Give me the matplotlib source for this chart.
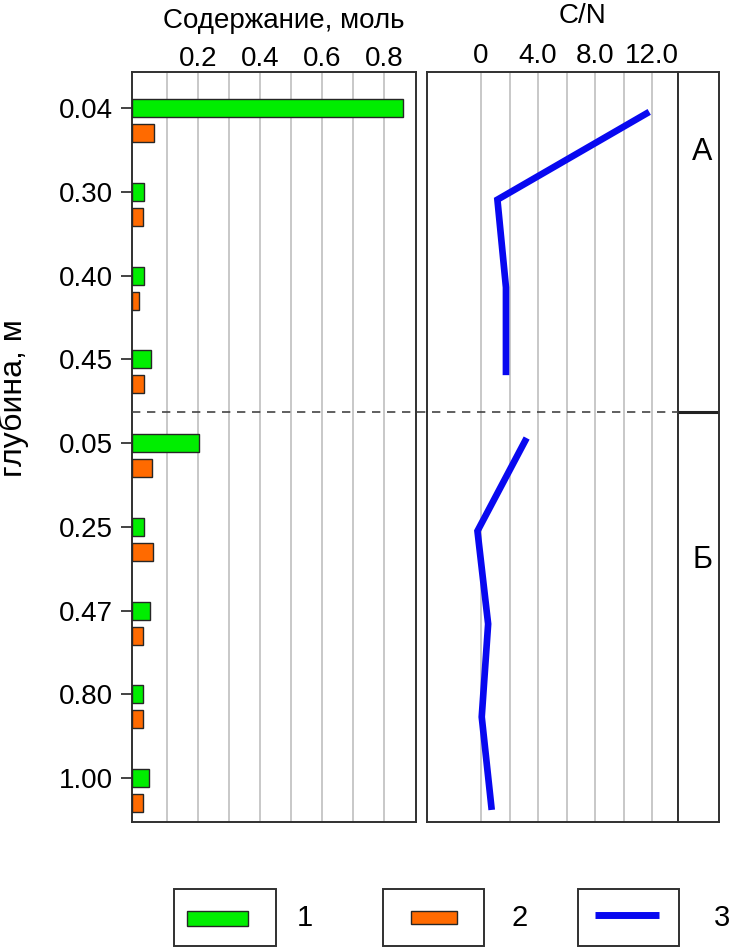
import matplotlib
matplotlib.use("Agg")
import matplotlib.pyplot as plt
from matplotlib.patches import Rectangle
from matplotlib.lines import Line2D
import numpy as np

plt.rcParams['font.family'] = ['Liberation Sans', 'DejaVu Sans']

# depth labels (upper section A, lower section Б)
depth_labels = ['0.04', '0.30', '0.40', '0.45', '0.05', '0.25', '0.47', '0.80', '1.00']
# content, mol
series1 = [0.862, 0.026, 0.026, 0.049, 0.202, 0.026, 0.046, 0.022, 0.041]
series2 = [0.058, 0.024, 0.008, 0.026, 0.051, 0.054, 0.022, 0.022, 0.022]
# C/N ratio per section
cn_a = [11.8, 1.15, 1.75, 1.75]
cn_b = [3.2, -0.25, 0.5, 0.05, 0.75]

content_ticks = [0.2, 0.4, 0.6, 0.8]
content_grid = [0.1, 0.3, 0.5, 0.7]
cn_ticks = [0, 4, 8, 12]
cn_tick_labels = ['0', '4.0', '8.0', '12.0']
cn_grid = [2, 6, 10]
section_names = ['А', 'Б']
legend_labels = ['1', '2', '3']

GREEN = '#00ee00'
ORANGE = '#ff6a00'
BLUE = '#0808f0'
EDGE = '#262626'
GRID = '#c4c4c4'
SPINE = '#303030'
FS = 20

W, H = 730, 947
fig = plt.figure(figsize=(W / 100, H / 100), dpi=100)


def box(x0, y0, x1, y1):
    """pixel box (top-left origin) -> figure fraction rect"""
    return [x0 / W, 1 - y1 / H, (x1 - x0) / W, (y1 - y0) / H]


def fx(x):
    return x / W


def fy(y):
    return 1 - y / H


# ---- left panel: content bars ----
ax = fig.add_axes(box(132, 72, 416, 822))
pos = np.arange(len(depth_labels))
x_min, x_max = -0.013, 0.903
bh = 0.215
ax.barh(pos, np.array(series1) - x_min, left=x_min, height=bh,
        color=GREEN, edgecolor=EDGE, linewidth=1.0, zorder=3)
ax.barh(pos + 0.3, np.array(series2) - x_min, left=x_min, height=bh,
        color=ORANGE, edgecolor=EDGE, linewidth=1.0, zorder=3)
ax.set_xlim(x_min, x_max)
ax.set_ylim(8.525, -0.43)
ax.set_yticks(pos)
ax.set_yticklabels(depth_labels, fontsize=FS)
ax.tick_params(axis='y', length=8, width=1.2, pad=6, color='#222222')
ax.xaxis.tick_top()
ax.set_xticks(content_ticks)
ax.set_xticklabels([f'{v:.1f}' for v in content_ticks], fontsize=FS)
ax.set_xticks(content_grid, minor=True)
ax.tick_params(axis='x', which='both', length=0, pad=0)
ax.grid(axis='x', which='both', color=GRID, linewidth=1.3, zorder=0)
for s in ax.spines.values():
    s.set_color(SPINE)
    s.set_linewidth(1.4)

# ---- right panel: C/N line, one axes per section ----
cn_min, cn_max = -3.79, 13.82
ax_a = fig.add_axes(box(427, 72, 678, 412))
ax_b = fig.add_axes(box(427, 412, 678, 822))
for a, vals, lim in ((ax_a, cn_a, (3.42, -0.455)), (ax_b, cn_b, (4.13, -0.28))):
    a.plot(vals, np.arange(len(vals)), color=BLUE, linewidth=4.8,
           solid_capstyle='butt', solid_joinstyle='miter', zorder=3)
    a.set_xlim(cn_min, cn_max)
    a.set_ylim(*lim)
    a.set_yticks([])
    a.set_xticks(cn_ticks)
    a.set_xticks(cn_grid, minor=True)
    a.grid(axis='x', which='both', color=GRID, linewidth=1.3, zorder=0)
    a.tick_params(axis='x', which='both', length=0)
    for s in a.spines.values():
        s.set_color(SPINE)
        s.set_linewidth(1.4)
ax_a.xaxis.tick_top()
ax_a.set_xticklabels(cn_tick_labels, fontsize=FS)
ax_a.tick_params(axis='x', pad=2)
ax_a.spines['bottom'].set_visible(False)
ax_b.set_xticklabels([])
ax_b.spines['top'].set_visible(False)

# ---- section column ----
ax_s = fig.add_axes(box(678, 72, 719, 822))
ax_s.set_xlim(0, 1)
ax_s.set_ylim(822, 72)
ax_s.set_xticks([])
ax_s.set_yticks([])
for s in ax_s.spines.values():
    s.set_color(SPINE)
    s.set_linewidth(1.4)
ax_s.axhline(412, color='#222222', linewidth=2.2)
ax_s.text(0.6, 152, section_names[0], fontsize=22, ha='center', va='center')
ax_s.text(0.6, 560, section_names[1], fontsize=22, ha='center', va='center')

# section divider across both panels
fig.add_artist(Line2D([fx(132), fx(678)], [fy(412), fy(412)], color='#444444',
                      linewidth=1.2, linestyle=(0, (5, 4))))

# titles and axis label
fig.text(fx(284), fy(21), 'Содержание, моль', fontsize=FS, ha='center', va='center')
fig.text(fx(582), fy(16), 'C/N', fontsize=FS, ha='center', va='center')
fig.text(fx(14), fy(398), 'глубина, м', fontsize=23, rotation=90,
         ha='center', va='center')

# ---- legend ----
leg_boxes = [(174, 276), (383, 484), (578, 679)]
leg_text_x = [305, 520, 722]
for i, ((x0, x1), tx) in enumerate(zip(leg_boxes, leg_text_x)):
    fig.add_artist(Rectangle((fx(x0), fy(946)), (x1 - x0) / W, (946 - 889) / H,
                             transform=fig.transFigure, facecolor='white',
                             edgecolor=SPINE, linewidth=1.4))
    fig.text(fx(tx), fy(918), legend_labels[i], fontsize=21, ha='center', va='center')
# swatches
fig.add_artist(Rectangle((fx(187), fy(926)), 61 / W, 15 / H, transform=fig.transFigure,
                         facecolor=GREEN, edgecolor=EDGE, linewidth=1.0))
fig.add_artist(Rectangle((fx(411), fy(924)), 46 / W, 13 / H, transform=fig.transFigure,
                         facecolor=ORANGE, edgecolor=EDGE, linewidth=1.0))
fig.add_artist(Line2D([fx(595), fx(659)], [fy(915), fy(915)], color=BLUE,
                      linewidth=5, solid_capstyle='butt'))

fig.savefig('out.png', dpi=100)
